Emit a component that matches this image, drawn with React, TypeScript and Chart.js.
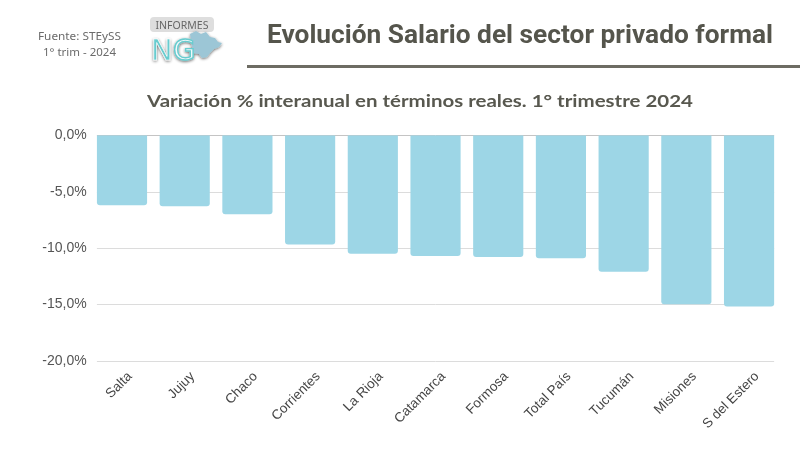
import React, { useEffect, useLayoutEffect, useRef } from 'react';
import { Chart, registerables } from 'chart.js';

Chart.register(...registerables);

// Variación % interanual del salario real, 1° trimestre 2024
const provincias = [
  'Salta',
  'Jujuy',
  'Chaco',
  'Corrientes',
  'La Rioja',
  'Catamarca',
  'Formosa',
  'Total País',
  'Tucumán',
  'Misiones',
  'S del Estero',
];
const variacion = [-6.2, -6.3, -7.0, -9.7, -10.5, -10.7, -10.8, -10.9, -12.1, -15.0, -15.2];
const yMin = -20;
const yMax = 0;
const yStep = 5;

const BAR_COLOR = '#9dd6e6';
const TEXT_DARK = '#55554c';

const fmtPct = (v: number) => v.toFixed(1).replace('.', ',') + '%';

// Horizontal guide lines that span only the width occupied by the bars
const barGridPlugin = {
  id: 'barGrid',
  beforeDatasetsDraw(chart: any) {
    const meta = chart.getDatasetMeta(0);
    if (!meta.data.length) return;
    const first = meta.data[0].getProps(['x', 'width'], true);
    const last = meta.data[meta.data.length - 1].getProps(['x', 'width'], true);
    const x0 = first.x - first.width / 2;
    const x1 = last.x + last.width / 2;
    const y = chart.scales.y;
    const ctx = chart.ctx;
    ctx.save();
    ctx.lineWidth = 1;
    y.ticks.forEach((t: any) => {
      const py = Math.round(y.getPixelForValue(t.value)) + 0.5;
      ctx.strokeStyle = t.value === 0 ? '#c4c4c4' : '#dcdcdc';
      ctx.beginPath();
      ctx.moveTo(x0, py);
      ctx.lineTo(x1, py);
      ctx.stroke();
    });
    ctx.restore();
  },
};

// Text squeezed/stretched horizontally to a given width
function FitText({
  text,
  width,
  style,
}: {
  text: string;
  width: number;
  style: React.CSSProperties;
}) {
  const ref = useRef<HTMLSpanElement>(null);
  useLayoutEffect(() => {
    const el = ref.current;
    if (!el) return;
    el.style.transform = 'none';
    const w = el.getBoundingClientRect().width;
    if (w > 0) el.style.transform = `scaleX(${width / w})`;
  }, [text, width]);
  return (
    <span
      ref={ref}
      style={{
        position: 'absolute',
        whiteSpace: 'nowrap',
        lineHeight: 1,
        transformOrigin: 'left top',
        ...style,
      }}
    >
      {text}
    </span>
  );
}

function Logo() {
  return (
    <svg
      width={84}
      height={52}
      viewBox="0 0 84 52"
      style={{ position: 'absolute', left: 146, top: 14 }}
    >
      <defs>
        <filter id="sombra" x="-20%" y="-20%" width="140%" height="140%">
          <feGaussianBlur in="SourceAlpha" stdDeviation="1.8" />
          <feOffset dx="0" dy="0.5" result="b" />
          <feComponentTransfer>
            <feFuncA type="linear" slope="0.6" />
          </feComponentTransfer>
          <feMerge>
            <feMergeNode />
            <feMergeNode in="SourceGraphic" />
          </feMerge>
        </filter>
      </defs>
      <rect x={4} y={3} width={64} height={15} rx={4} fill="#dedede" />
      <text
        x={36}
        y={14.5}
        textAnchor="middle"
        fontFamily="'Noto Sans', sans-serif"
        fontSize={10.5}
        fill="#676767"
      >
        INFORMES
      </text>
      <g filter="url(#sombra)">
        <path
          d="M44 20 L50 17 L55 20 L60 18 L64 23 L69 24 L72 28 L76 29 L73 33 L68 35 L64 39 L61 43 L56 44 L53 40 L47 39 Z"
          fill="#9cc6d6"
        />
        <text
          x={5}
          y={46}
          fontFamily="'DejaVu Sans', sans-serif"
          fontSize={29}
          fill="#67cccf"
          stroke="#ffffff"
          strokeWidth={0.6}
        >
          N
        </text>
        <text
          x={27}
          y={46}
          fontFamily="'DejaVu Sans', sans-serif"
          fontSize={29}
          fill="#f2f8fa"
          stroke="#67cccf"
          strokeWidth={1.4}
        >
          G
        </text>
      </g>
    </svg>
  );
}

export default function App() {
  const canvasRef = useRef<HTMLCanvasElement>(null);

  useEffect(() => {
    const canvas = canvasRef.current;
    if (!canvas) return;
    const chart = new Chart(canvas, {
      type: 'bar',
      data: {
        labels: provincias,
        datasets: [
          {
            data: variacion,
            backgroundColor: BAR_COLOR,
            borderRadius: 3,
            borderSkipped: 'start',
            categoryPercentage: 1,
            barPercentage: 0.8,
          },
        ],
      },
      options: {
        responsive: true,
        maintainAspectRatio: false,
        animation: false,
        layout: { padding: { top: 135.3, right: 19.6, bottom: 0, left: 0 } },
        plugins: {
          legend: { display: false },
          tooltip: { enabled: false },
          title: { display: false },
        },
        scales: {
          x: {
            grid: { display: false, drawTicks: false },
            border: { display: false },
            ticks: {
              autoSkip: false,
              minRotation: 45,
              maxRotation: 45,
              padding: 8,
              labelOffset: 8,
              color: '#454545',
              font: { family: "'Liberation Sans', Arial, sans-serif", size: 13.5 },
            },
            afterFit: (s: any) => {
              s.height = 108.3;
            },
          },
          y: {
            min: yMin,
            max: yMax,
            grid: { display: false, drawTicks: false },
            border: { display: false },
            ticks: {
              stepSize: yStep,
              padding: 4,
              color: '#555555',
              font: { family: "'Liberation Sans', Arial, sans-serif", size: 14 },
              callback: (v: any) => fmtPct(Number(v)),
            },
            afterFit: (s: any) => {
              s.width = 90.65;
            },
          },
        },
      },
      plugins: [barGridPlugin],
    });
    return () => chart.destroy();
  }, []);

  return (
    <div
      style={{
        position: 'fixed',
        left: 0,
        top: 0,
        width: 800,
        height: 469,
        background: '#ffffff',
        overflow: 'hidden',
      }}
    >
      <div style={{ position: 'absolute', left: 0, top: 0, width: 800, height: 469 }}>
        <canvas ref={canvasRef} />
      </div>

      {/* Fuente */}
      <FitText
        text="Fuente: STEySS"
        width={83}
        style={{
          left: 38,
          top: 29.5,
          fontFamily: "'Noto Sans', sans-serif",
          fontSize: 11,
          color: '#6b6b6b',
        }}
      />
      <FitText
        text="1° trim - 2024"
        width={73}
        style={{
          left: 43,
          top: 46,
          fontFamily: "'Noto Sans', sans-serif",
          fontSize: 11,
          color: '#6b6b6b',
        }}
      />

      <Logo />

      {/* Título */}
      <FitText
        text="Evolución Salario del sector privado formal"
        width={506}
        style={{
          left: 267,
          top: 21,
          fontFamily: 'Roboto, sans-serif',
          fontWeight: 700,
          fontSize: 26,
          color: TEXT_DARK,
        }}
      />
      <div
        style={{
          position: 'absolute',
          left: 247,
          top: 64.5,
          width: 553,
          height: 3,
          background: '#6d6c63',
        }}
      />

      {/* Subtítulo */}
      <FitText
        text="Variación % interanual en términos reales. 1° trimestre 2024"
        width={546}
        style={{
          left: 147,
          top: 92,
          fontFamily: 'Lato, sans-serif',
          fontWeight: 700,
          fontSize: 17.5,
          color: '#58584f',
        }}
      />
    </div>
  );
}
